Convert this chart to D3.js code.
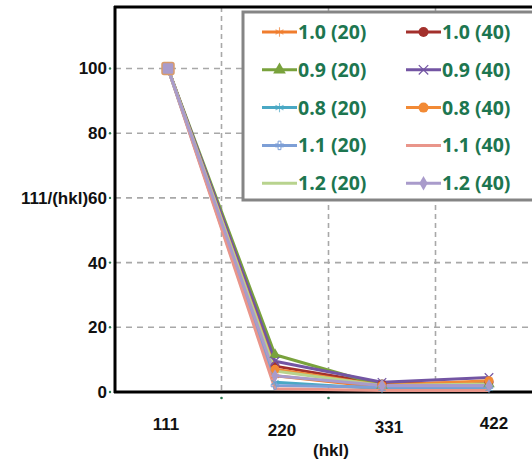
<!DOCTYPE html>
<html><head><meta charset="utf-8">
<script src="https://cdn.jsdelivr.net/npm/d3@7"></script>
<style>body{margin:0;background:#fff;}svg{display:block;}</style>
</head><body>
<svg id="c" width="532" height="460"></svg>
<script>
const categories = ["111", "220", "331", "422"];
const seriesNames = ["1.0 (20)", "1.0 (40)", "0.9 (20)", "0.9 (40)", "0.8 (20)", "0.8 (40)", "1.1 (20)", "1.1 (40)", "1.2 (20)", "1.2 (40)"];
const s10_20 = [100, 5, 1.5, 2];
const s10_40 = [100, 8, 2.5, 3];
const s09_20 = [100, 11.5, 2, 2.5];
const s09_40 = [100, 9.5, 3, 4.5];
const s08_20 = [100, 3, 1, 1];
const s08_40 = [100, 7, 2, 3.5];
const s11_20 = [100, 2, 1.5, 1.5];
const s11_40 = [100, 1, 0.5, 0.5];
const s12_20 = [100, 6.5, 2, 2.5];
const s12_40 = [100, 5, 2, 2];
const yTicks = [0, 20, 40, 60, 80, 100];
const yLabel = "111/(hkl)";
const xLabel = "(hkl)";

const seriesValues = [s10_20, s10_40, s09_20, s09_40, s08_20, s08_40, s11_20, s11_40, s12_20, s12_40];
const colors = ["#f07d2e", "#a3302c", "#79a23c", "#7355a3", "#4aa8c4", "#f28a35", "#7d9fd6", "#e9958a", "#b8d38e", "#a99bcb"];
const markers = ["asterisk", "circle", "triangle", "cross", "asterisk", "circle", "plus", "none", "none", "diamond"];

const svg = d3.select("#c");
const L = 115, T = 7, B = 392;
const x = d3.scaleBand().domain(categories).range([114.5, 542.5]).padding(0);
const y = d3.scaleLinear().domain([0, 119]).range([B, T]);

// grid
const g = svg.append("g");
g.selectAll("line.h").data(yTicks.filter(d => d > 0)).join("line")
  .attr("x1", L).attr("x2", 532).attr("y1", d => y(d)).attr("y2", d => y(d))
  .attr("stroke", "#a8a8a8").attr("stroke-width", 1.6).attr("stroke-dasharray", "6,5");
g.selectAll("line.v").data(categories.slice(1)).join("line")
  .attr("x1", d => x(d)).attr("x2", d => x(d)).attr("y1", T).attr("y2", B)
  .attr("stroke", "#a8a8a8").attr("stroke-width", 1.6).attr("stroke-dasharray", "5,4");

// tick dots
g.selectAll("circle.yt").data(yTicks).join("circle")
  .attr("cx", L - 5).attr("cy", d => y(d)).attr("r", 1.2).attr("fill", "#2a7a50");
g.selectAll("circle.xt").data(categories.slice(1, 3)).join("circle")
  .attr("cx", d => x(d)).attr("cy", B + 6).attr("r", 1.3).attr("fill", "#2a7a50");

// axes frame
svg.append("line").attr("x1", L).attr("x2", L).attr("y1", T - 1).attr("y2", B + 1).attr("stroke", "#000").attr("stroke-width", 3);
svg.append("line").attr("x1", L - 1).attr("x2", 532).attr("y1", B).attr("y2", B).attr("stroke", "#000").attr("stroke-width", 3);
svg.append("line").attr("x1", L - 1).attr("x2", 532).attr("y1", T).attr("y2", T).attr("stroke", "#000").attr("stroke-width", 3);

// y tick labels
const yLabelG = svg.append("g").attr("font-family", "Liberation Sans, Arial, sans-serif").attr("font-weight", "bold").attr("font-size", 17).attr("fill", "#111");
yLabelG.selectAll("text").data(yTicks).join("text")
  .attr("x", L - 8).attr("y", d => y(d) + 6).attr("text-anchor", "end")
  .text(d => d === 60 ? yLabel + d : d);

// x tick labels
const xOff = [[-2, 38], [7, 44], [7, 41], [5, 37]];
yLabelG.append("g").selectAll("text").data(categories).join("text")
  .attr("x", (d, i) => x(d) + x.bandwidth() / 2 + xOff[i][0]).attr("y", (d, i) => B + xOff[i][1])
  .attr("text-anchor", "middle").text(d => d);
yLabelG.append("text").attr("x", 331).attr("y", 456).attr("text-anchor", "middle").text(xLabel);

// series
const cx = d => x(d) + x.bandwidth() / 2;
const line = d3.line().x((v, i) => cx(categories[i])).y(v => y(v));
function drawMarker(sel, type, color, px, py, s) {
  if (type === "circle") sel.append("circle").attr("cx", px).attr("cy", py).attr("r", s * 0.5).attr("fill", color);
  else if (type === "triangle") sel.append("path").attr("d", d3.symbol(d3.symbolTriangle, s * s * 0.7)()).attr("transform", `translate(${px},${py})`).attr("fill", color);
  else if (type === "diamond") sel.append("path").attr("d", d3.symbol(d3.symbolDiamond, s * s * 0.6)()).attr("transform", `translate(${px},${py})`).attr("fill", color);
  else if (type === "cross") sel.append("path").attr("d", d3.symbol(d3.symbolX, s * s * 0.6)()).attr("transform", `translate(${px},${py})`).attr("fill", "none").attr("stroke", color).attr("stroke-width", 1.2);
  else if (type === "plus") sel.append("path").attr("d", d3.symbol(d3.symbolCross, s * s * 0.4)()).attr("transform", `translate(${px},${py})`).attr("fill", "none").attr("stroke", color).attr("stroke-width", 1);
  else if (type === "asterisk") sel.append("path").attr("d", d3.symbol(d3.symbolAsterisk, s * s * 0.6)()).attr("transform", `translate(${px},${py})`).attr("fill", "none").attr("stroke", color).attr("stroke-width", 1.1).attr("stroke-opacity", 0.7);
}
const sg = svg.append("g");
seriesValues.forEach((vals, k) => {
  sg.append("path").attr("d", line(vals)).attr("fill", "none").attr("stroke", colors[k]).attr("stroke-width", 3).attr("stroke-linejoin", "round");
});
seriesValues.forEach((vals, k) => {
  vals.forEach((v, i) => drawMarker(sg, markers[k], colors[k], cx(categories[i]), y(v), 9));
});
// big marker at first point (square)
sg.append("rect").attr("x", cx(categories[0]) - 6).attr("y", y(s12_40[0]) - 6).attr("width", 12).attr("height", 12).attr("rx", 2)
  .attr("fill", colors[9]).attr("stroke", "#d89a6a").attr("stroke-width", 1.5);

// legend
const lg = svg.append("g");
lg.append("rect").attr("x", 243).attr("y", 12).attr("width", 300).attr("height", 188)
  .attr("fill", "#fff").attr("stroke", "#858585").attr("stroke-width", 3);
seriesNames.forEach((name, k) => {
  const col = k % 2, row = Math.floor(k / 2);
  const x0 = col === 0 ? 262 : 406, yy = 32 + row * 37.8;
  lg.append("line").attr("x1", x0).attr("x2", x0 + 35).attr("y1", yy).attr("y2", yy).attr("stroke", colors[k]).attr("stroke-width", 3);
  drawMarker(lg, markers[k], colors[k], x0 + 17.5, yy, 10);
  lg.append("text").attr("x", x0 + 36).attr("y", yy + 7).attr("font-family", "Open Sans, sans-serif").attr("font-weight", "bold")
    .attr("font-size", 19.5).attr("fill", "#1d7650").text(name);
});
</script>
</body></html>
